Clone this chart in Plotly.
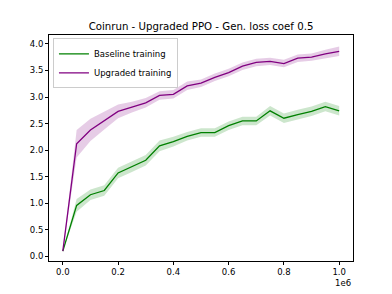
import plotly.graph_objects as go

steps = [0, 50000, 100000, 150000, 200000, 250000, 300000, 350000, 400000, 450000,
         500000, 550000, 600000, 650000, 700000, 750000, 800000, 850000, 900000, 950000, 1000000]

baseline_mean = [0.10, 0.96, 1.16, 1.24, 1.57, 1.69, 1.81, 2.08, 2.16, 2.26,
                 2.33, 2.33, 2.46, 2.55, 2.55, 2.74, 2.60, 2.67, 2.73, 2.82, 2.74]
baseline_std = [0.0, 0.12, 0.10, 0.10, 0.10, 0.10, 0.10, 0.10, 0.09, 0.08,
                0.08, 0.08, 0.08, 0.08, 0.08, 0.09, 0.09, 0.09, 0.09, 0.09, 0.09]

upgraded_mean = [0.10, 2.12, 2.38, 2.56, 2.73, 2.81, 2.89, 3.03, 3.05, 3.21,
                 3.26, 3.37, 3.46, 3.58, 3.65, 3.67, 3.63, 3.73, 3.75, 3.81, 3.86]
upgraded_std = [0.0, 0.26, 0.21, 0.17, 0.13, 0.10, 0.09, 0.08, 0.08, 0.08,
                0.07, 0.07, 0.07, 0.07, 0.07, 0.07, 0.07, 0.07, 0.07, 0.08, 0.09]

series_names = ["Baseline training", "Upgraded training"]
x_tick_vals = [0.0, 0.2, 0.4, 0.6, 0.8, 1.0]
y_tick_vals = [0.0, 0.5, 1.0, 1.5, 2.0, 2.5, 3.0, 3.5, 4.0]

x = [s / 1e6 for s in steps]

fig = go.Figure()

def add_band(mean, std, fill):
    upper = [m + s for m, s in zip(mean, std)]
    lower = [m - s for m, s in zip(mean, std)]
    fig.add_trace(go.Scatter(x=x + x[::-1], y=upper + lower[::-1], fill="toself",
                             fillcolor=fill, line=dict(width=0), hoverinfo="skip",
                             showlegend=False, mode="lines"))

add_band(baseline_mean, baseline_std, "rgba(0,128,0,0.2)")
add_band(upgraded_mean, upgraded_std, "rgba(128,0,128,0.2)")

fig.add_trace(go.Scatter(x=x, y=baseline_mean, mode="lines", name=series_names[0],
                         line=dict(color="#008000", width=1.3)))
fig.add_trace(go.Scatter(x=x, y=upgraded_mean, mode="lines", name=series_names[1],
                         line=dict(color="#800080", width=1.3)))

axis_common = dict(showline=True, linecolor="black", linewidth=0.8, mirror=True,
                   showgrid=False, zeroline=False, ticks="outside", ticklen=3,
                   tickwidth=0.8, tickcolor="black",
                   tickfont=dict(family="DejaVu Sans", size=8.5, color="black"))

fig.update_layout(
    width=392, height=294,
    margin=dict(l=49, r=39, t=35, b=33),
    paper_bgcolor="white", plot_bgcolor="white",
    title=dict(text="Coinrun - Upgraded PPO - Gen. loss coef 0.5",
               x=0.5, xanchor="center", xref="paper", y=1 - 26 / 294, yanchor="middle",
               font=dict(family="DejaVu Sans", size=10.2, color="black")),
    xaxis=dict(range=[-0.05, 1.05], tickvals=x_tick_vals,
               ticktext=[f"{v:.1f}" for v in x_tick_vals], **axis_common),
    yaxis=dict(range=[-0.087, 4.167], tickvals=y_tick_vals,
               ticktext=[f"{v:.1f}" for v in y_tick_vals], **axis_common),
    legend=dict(x=0.013, y=0.985, xanchor="left", yanchor="top",
                bgcolor="rgba(255,255,255,0.8)", bordercolor="#cccccc", borderwidth=1,
                font=dict(family="DejaVu Sans", size=8.5, color="black"),
                tracegroupgap=0, itemwidth=30),
    showlegend=True,
)

fig.add_annotation(text="1e6", xref="paper", yref="paper", x=1.0, y=-0.068,
                   xanchor="right", yanchor="top", showarrow=False,
                   font=dict(family="DejaVu Sans", size=8.5, color="black"))

fig.write_html("out.html", config={"displayModeBar": False},
               post_script="document.body.style.margin='0';")
